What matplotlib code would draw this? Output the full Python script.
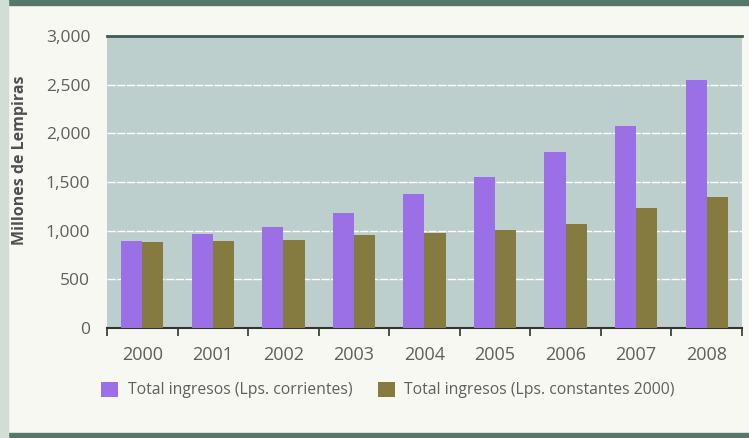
import matplotlib.pyplot as plt
import numpy as np
from matplotlib.patches import Rectangle

plt.rcParams['font.family'] = ['Open Sans', 'DejaVu Sans']

years = ["2000", "2001", "2002", "2003", "2004", "2005", "2006", "2007", "2008"]
corrientes = [890, 965, 1040, 1180, 1375, 1550, 1810, 2075, 2545]
constantes = [882, 897, 907, 955, 975, 1010, 1070, 1235, 1345]
yticks = [0, 500, 1000, 1500, 2000, 2500, 3000]

purple = "#9b70e6"
olive = "#857a40"
axbg = "#bdcfcd"
figbg = "#f7f8f2"
txt = "#5f5f5f"

fig = plt.figure(figsize=(7.49, 4.38), dpi=100, facecolor=figbg)
ax = fig.add_axes([107/749, 1 - 328/438, 635/749, 292/438])
ax.set_facecolor(axbg)

x = np.arange(len(years))
w = 0.30
ax.bar(x - w/2, corrientes, w, color=purple, label="Total ingresos (Lps. corrientes)", zorder=3)
ax.bar(x + w/2, constantes, w, color=olive, label="Total ingresos (Lps. constantes 2000)", zorder=3)

ax.set_xlim(-0.5, len(years) - 0.5)
ax.set_ylim(0, 3000)
ax.set_yticks(yticks)
ax.set_yticklabels([f"{v:,}" for v in yticks], fontsize=12.5, color=txt)
ax.yaxis.grid(True, color="white", linewidth=1.0, linestyle=(0, (6, 1)), zorder=1)
ax.tick_params(axis="y", length=0, pad=12)

ax.set_xticks(x)
ax.set_xticklabels(years, fontsize=13, color=txt)
ax.set_xticks(np.arange(len(years) + 1) - 0.5, minor=True)
ax.tick_params(axis="x", which="major", length=0, pad=13)
ax.tick_params(axis="x", which="minor", length=6, width=1.2, color="#333333", direction="out")

for s in ["left", "right"]:
    ax.spines[s].set_visible(False)
ax.spines["bottom"].set_color("#333333")
ax.spines["bottom"].set_linewidth(1.5)
ax.spines["top"].set_color("#3f5a50")
ax.spines["top"].set_linewidth(2.0)

ax.set_ylabel("Millones de Lempiras", fontsize=11.5, fontweight="bold", color="#505050",
              va="center", ha="center")
ax.yaxis.set_label_coords(-0.137, 0.575)

# frame decorations
fig.patches.append(Rectangle((0, 1 - 5/438), 1, 5/438, transform=fig.transFigure, color="#55786a", zorder=0))
fig.patches.append(Rectangle((0, 0), 1, 5/438, transform=fig.transFigure, color="#55786a", zorder=0))
fig.patches.append(Rectangle((0, 0), 8/749, 1, transform=fig.transFigure, color="#d2ddd6", zorder=0))

fig.legend(loc="center", bbox_to_anchor=(388/749, 1 - 390/438), ncol=2, frameon=False,
           fontsize=11.3, labelcolor=txt, handlelength=1.1, handleheight=1.1,
           columnspacing=1.6, handletextpad=0.6)

plt.savefig("out.png", dpi=100, facecolor=figbg)
plt.close()
